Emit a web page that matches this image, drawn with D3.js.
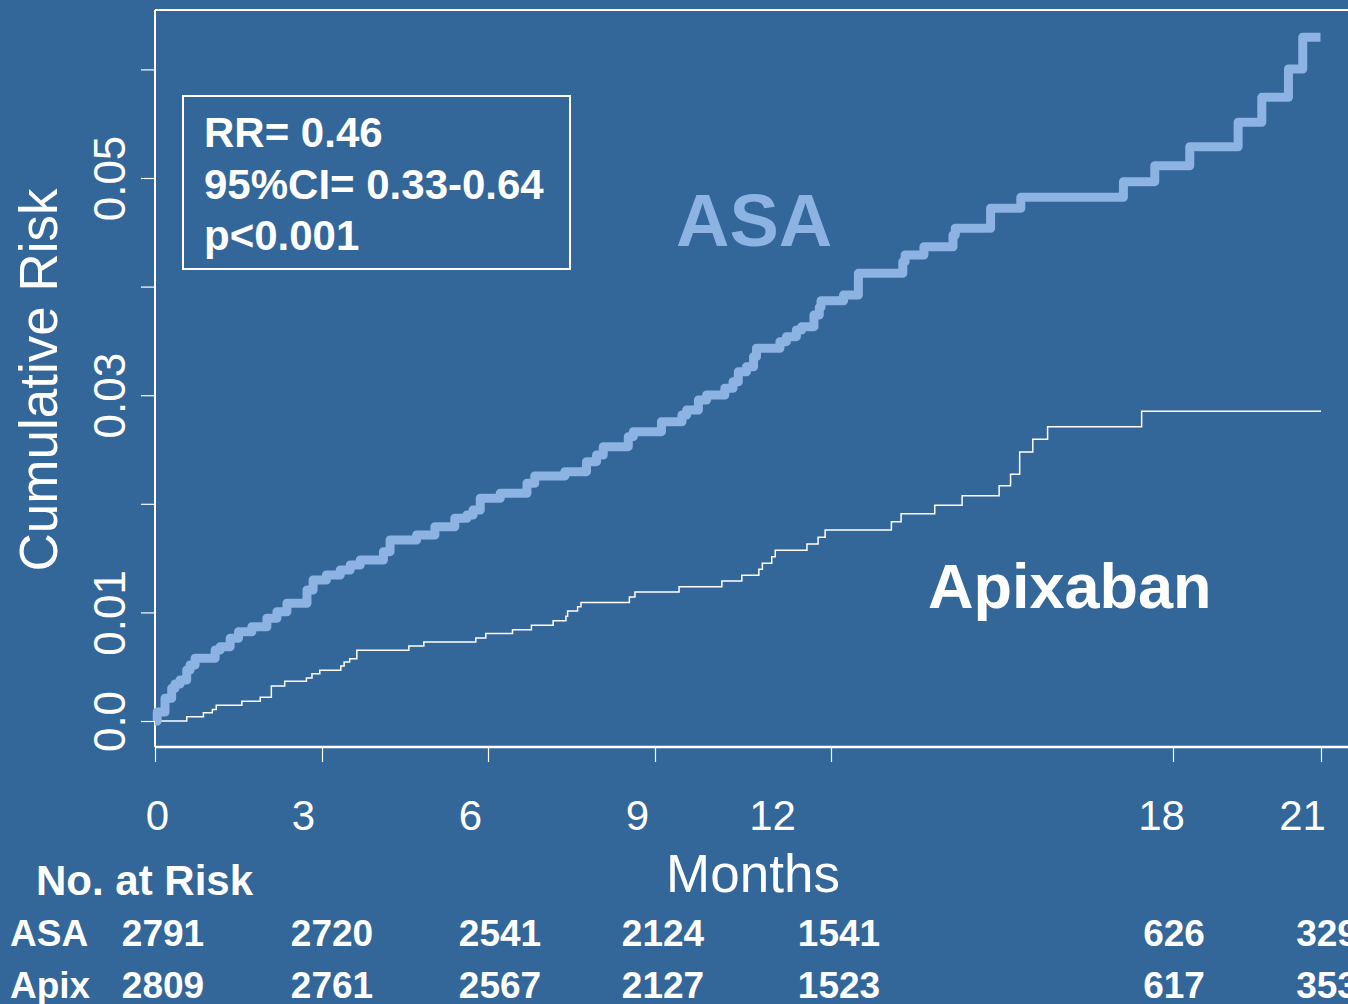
<!DOCTYPE html>
<html>
<head>
<meta charset="utf-8">
<script src="https://d3js.org/d3.v7.min.js"></script>
<style>
    body { margin: 0; background: #336699; overflow: hidden; }
    svg { display: block; }
    text { font-family: "Liberation Sans", Arial, sans-serif; fill: #ffffff; }
</style>
</head>
<body>
<svg id="drawing_region"></svg>
<script>
// step points: month of the event and cumulative risk right after it
const asaMonths = [0, 0.04, 0.18, 0.30, 0.36, 0.45, 0.57, 0.63, 0.72, 1.08, 1.17, 1.35, 1.50, 1.74, 2.01, 2.19, 2.37, 2.73, 2.84,
    3.08, 3.33, 3.51, 3.69, 4.11, 4.23, 4.71, 5.04, 5.40, 5.62, 5.73, 5.86, 6.22, 6.70, 6.84, 7.38, 7.77, 7.95, 8.07, 8.52, 8.61,
    9.11, 9.46, 9.54, 9.74, 9.88, 10.19, 10.33, 10.42, 10.56, 10.68, 10.73, 11.13, 11.24, 11.41, 11.50, 11.71, 11.80, 11.83,
    12.22, 12.48, 13.26, 13.30, 13.63, 14.14, 14.18, 14.80, 15.33, 17.13, 17.68, 18.34, 19.32, 19.80, 20.34, 20.63, 20.99];
const asaRisk = [0, 0.00083, 0.00209, 0.00301, 0.00341, 0.00378, 0.00470, 0.00516, 0.00578, 0.00654, 0.00684, 0.00762, 0.00822,
    0.00868, 0.00946, 0.01006, 0.01084, 0.01206, 0.01298, 0.01344, 0.01390, 0.01436, 0.01483, 0.01559, 0.01667, 0.01713, 0.01789,
    0.01867, 0.01897, 0.01943, 0.02051, 0.02097, 0.02189, 0.02256, 0.02296, 0.02388, 0.02449, 0.02526, 0.02618, 0.02664, 0.02756,
    0.02818, 0.02864, 0.02956, 0.03002, 0.03064, 0.03124, 0.03216, 0.03262, 0.03355, 0.03432, 0.03493, 0.03539, 0.03600, 0.03631,
    0.03739, 0.03809, 0.03870, 0.03923, 0.04122, 0.04229, 0.04291, 0.04367, 0.04475, 0.04537, 0.04721, 0.04822, 0.04966, 0.05113,
    0.05288, 0.05513, 0.05743, 0.06004, 0.06296, 0.06296];

const apixMonths = [0, 0.57, 0.87, 1.03, 1.10, 1.56, 1.89, 2.09, 2.33, 2.72, 2.82, 2.96, 3.34, 3.40, 3.50, 3.63, 4.57, 4.84,
    5.78, 5.96, 6.44, 6.78, 7.17, 7.40, 7.43, 7.61, 7.67, 8.54, 8.64, 9.41, 10.14, 10.48, 10.77, 10.83, 10.99, 11.05, 11.59,
    11.78, 11.90, 13.06, 13.23, 13.82, 14.30, 14.95, 15.15, 15.31, 15.54, 15.80, 17.45, 21.0];
const apixRisk = [0, 0.00040, 0.00076, 0.00107, 0.00144, 0.00181, 0.00218, 0.00322, 0.00366, 0.00396, 0.00436, 0.00467, 0.00506,
    0.00543, 0.00574, 0.00651, 0.00691, 0.00727, 0.00764, 0.00806, 0.00841, 0.00881, 0.00923, 0.00964, 0.01013, 0.01053, 0.01091,
    0.01142, 0.01188, 0.01237, 0.01289, 0.01342, 0.01397, 0.01452, 0.01513, 0.01572, 0.01630, 0.01692, 0.01759, 0.01835, 0.01909,
    0.01986, 0.02075, 0.02167, 0.02272, 0.02477, 0.02594, 0.02710, 0.02852, 0.02852];

const monthTicks = [0, 3, 6, 9, 12, 18, 21];
const riskTicks = [0, 0.01, 0.02, 0.03, 0.04, 0.05, 0.06];
const riskTickLabels = ["0.0", "0.01", "", "0.03", "", "0.05", ""];

const asaAtRisk = [2791, 2720, 2541, 2124, 1541, 626, 329];
const apixAtRisk = [2809, 2761, 2567, 2127, 1523, 617, 353];

const statLines = ["RR= 0.46", "95%CI= 0.33-0.64", "p<0.001"];

const config = {
    parent: '#drawing_region',
    width: 1348,
    height: 1004,
    margin: {top: 10, left: 155},
    // the printed tick labels and risk counts sit a little off their ticks
    tickLabelShift: [2, -19, -18, -18, -59, -12, -19],
    atRiskShift: [8, 10, 12, 8, 8, 1, 6]
};

const svg = d3.select(config.parent)
    .attr('width', config.width)
    .attr('height', config.height);

svg.append('rect')
    .attr('width', config.width)
    .attr('height', config.height)
    .attr('fill', '#336699');

const chart = svg.append('g')
    .attr('transform', `translate(${config.margin.left}, ${config.margin.top})`);

const inner_width = config.width - config.margin.left;
const axis_y = 737;

// the printed axis is not evenly spaced, so the scale follows its ticks
const xscale = d3.scaleLinear()
    .domain(monthTicks)
    .range([0, 167, 333, 500, 676, 1018, 1166]);

const yscale = d3.scaleLinear()
    .domain([0, 0.06])
    .range([711, 59.4]);

// frame: top and left lines, bottom axis line
chart.append('line')
    .attr('x1', 0).attr('x2', inner_width)
    .attr('y1', 0).attr('y2', 0)
    .attr('stroke', '#fff').attr('stroke-width', 2);
chart.append('line')
    .attr('x1', 0).attr('x2', 0)
    .attr('y1', 0).attr('y2', axis_y)
    .attr('stroke', '#fff').attr('stroke-width', 2);
chart.append('line')
    .attr('x1', 0).attr('x2', inner_width)
    .attr('y1', axis_y).attr('y2', axis_y)
    .attr('stroke', '#fff').attr('stroke-width', 2.5);

const xaxis_group = chart.append('g')
    .attr('transform', `translate(0, ${axis_y})`)
    .call(d3.axisBottom(xscale).tickValues(monthTicks).tickSize(15).tickFormat(d3.format('d')));
xaxis_group.select('.domain').remove();
xaxis_group.selectAll('line').attr('stroke', '#fff').attr('stroke-width', 1.2);
xaxis_group.selectAll('text')
    .attr('y', 83)
    .attr('dy', 0)
    .attr('dx', (d, i) => config.tickLabelShift[i])
    .attr('fill', '#fff')
    .style('font-size', '42px');

const yaxis_group = chart.append('g')
    .call(d3.axisLeft(yscale).tickValues(riskTicks).tickSize(14).tickFormat((d, i) => riskTickLabels[i]));
yaxis_group.select('.domain').remove();
yaxis_group.selectAll('line').attr('stroke', '#fff').attr('stroke-width', 1.2);
yaxis_group.selectAll('text')
    .attr('transform', 'rotate(-90)')
    .attr('text-anchor', 'middle')
    .attr('x', 0)
    .attr('y', -30)
    .attr('dy', 0)
    .attr('fill', '#fff')
    .style('font-size', '44px');

// curves
const asaData = asaMonths.map((m, i) => ({x: m, y: asaRisk[i]}));
const apixData = apixMonths.map((m, i) => ({x: m, y: apixRisk[i]}));

const line = d3.line()
    .x(d => xscale(d.x))
    .y(d => yscale(d.y))
    .curve(d3.curveStepAfter);

chart.append('path')
    .attr('d', line(apixData))
    .attr('fill', 'none')
    .attr('stroke', '#ffffff')
    .attr('stroke-width', 1.5);

chart.append('path')
    .attr('d', line(asaData))
    .attr('fill', 'none')
    .attr('stroke', '#8db3e2')
    .attr('stroke-width', 9)
    .attr('stroke-linejoin', 'round')
    .attr('stroke-linecap', 'butt');

// axis titles
svg.append('text')
    .attr('transform', 'translate(57, 380) rotate(-90)')
    .attr('text-anchor', 'middle')
    .style('font-size', '53px')
    .text('Cumulative Risk');

svg.append('text')
    .attr('x', 753).attr('y', 892)
    .attr('text-anchor', 'middle')
    .style('font-size', '53px')
    .text('Months');

// stats box
svg.append('rect')
    .attr('x', 183).attr('y', 96)
    .attr('width', 387).attr('height', 173)
    .attr('fill', 'none')
    .attr('stroke', '#fff')
    .attr('stroke-width', 2);

svg.selectAll('.stat')
    .data(statLines)
    .enter().append('text')
    .attr('class', 'stat')
    .attr('x', 204)
    .attr('y', (d, i) => 147 + i * 51.5)
    .style('font-size', '42px')
    .style('font-weight', 'bold')
    .text(d => d);

// series labels
svg.append('text')
    .attr('x', 676).attr('y', 246)
    .style('font-size', '74px')
    .style('font-weight', 'bold')
    .style('fill', '#8db3e2')
    .text('ASA');

svg.append('text')
    .attr('x', 928).attr('y', 608)
    .style('font-size', '63px')
    .style('font-weight', 'bold')
    .text('Apixaban');

// numbers at risk
svg.append('text')
    .attr('x', 36).attr('y', 895)
    .style('font-size', '42px')
    .style('font-weight', 'bold')
    .text('No. at Risk');

const riskRows = [
    {label: 'ASA', values: asaAtRisk, y: 946},
    {label: 'Apix', values: apixAtRisk, y: 998}
];

riskRows.forEach(row => {
    svg.append('text')
        .attr('x', 10).attr('y', row.y)
        .style('font-size', '37px')
        .style('font-weight', 'bold')
        .text(row.label);

    svg.selectAll(null)
        .data(row.values)
        .enter().append('text')
        .attr('x', (d, i) => config.margin.left + xscale(monthTicks[i]) + config.atRiskShift[i])
        .attr('y', row.y)
        .attr('text-anchor', 'middle')
        .style('font-size', '37px')
        .style('font-weight', 'bold')
        .text(d => d);
});
</script>
</body>
</html>
